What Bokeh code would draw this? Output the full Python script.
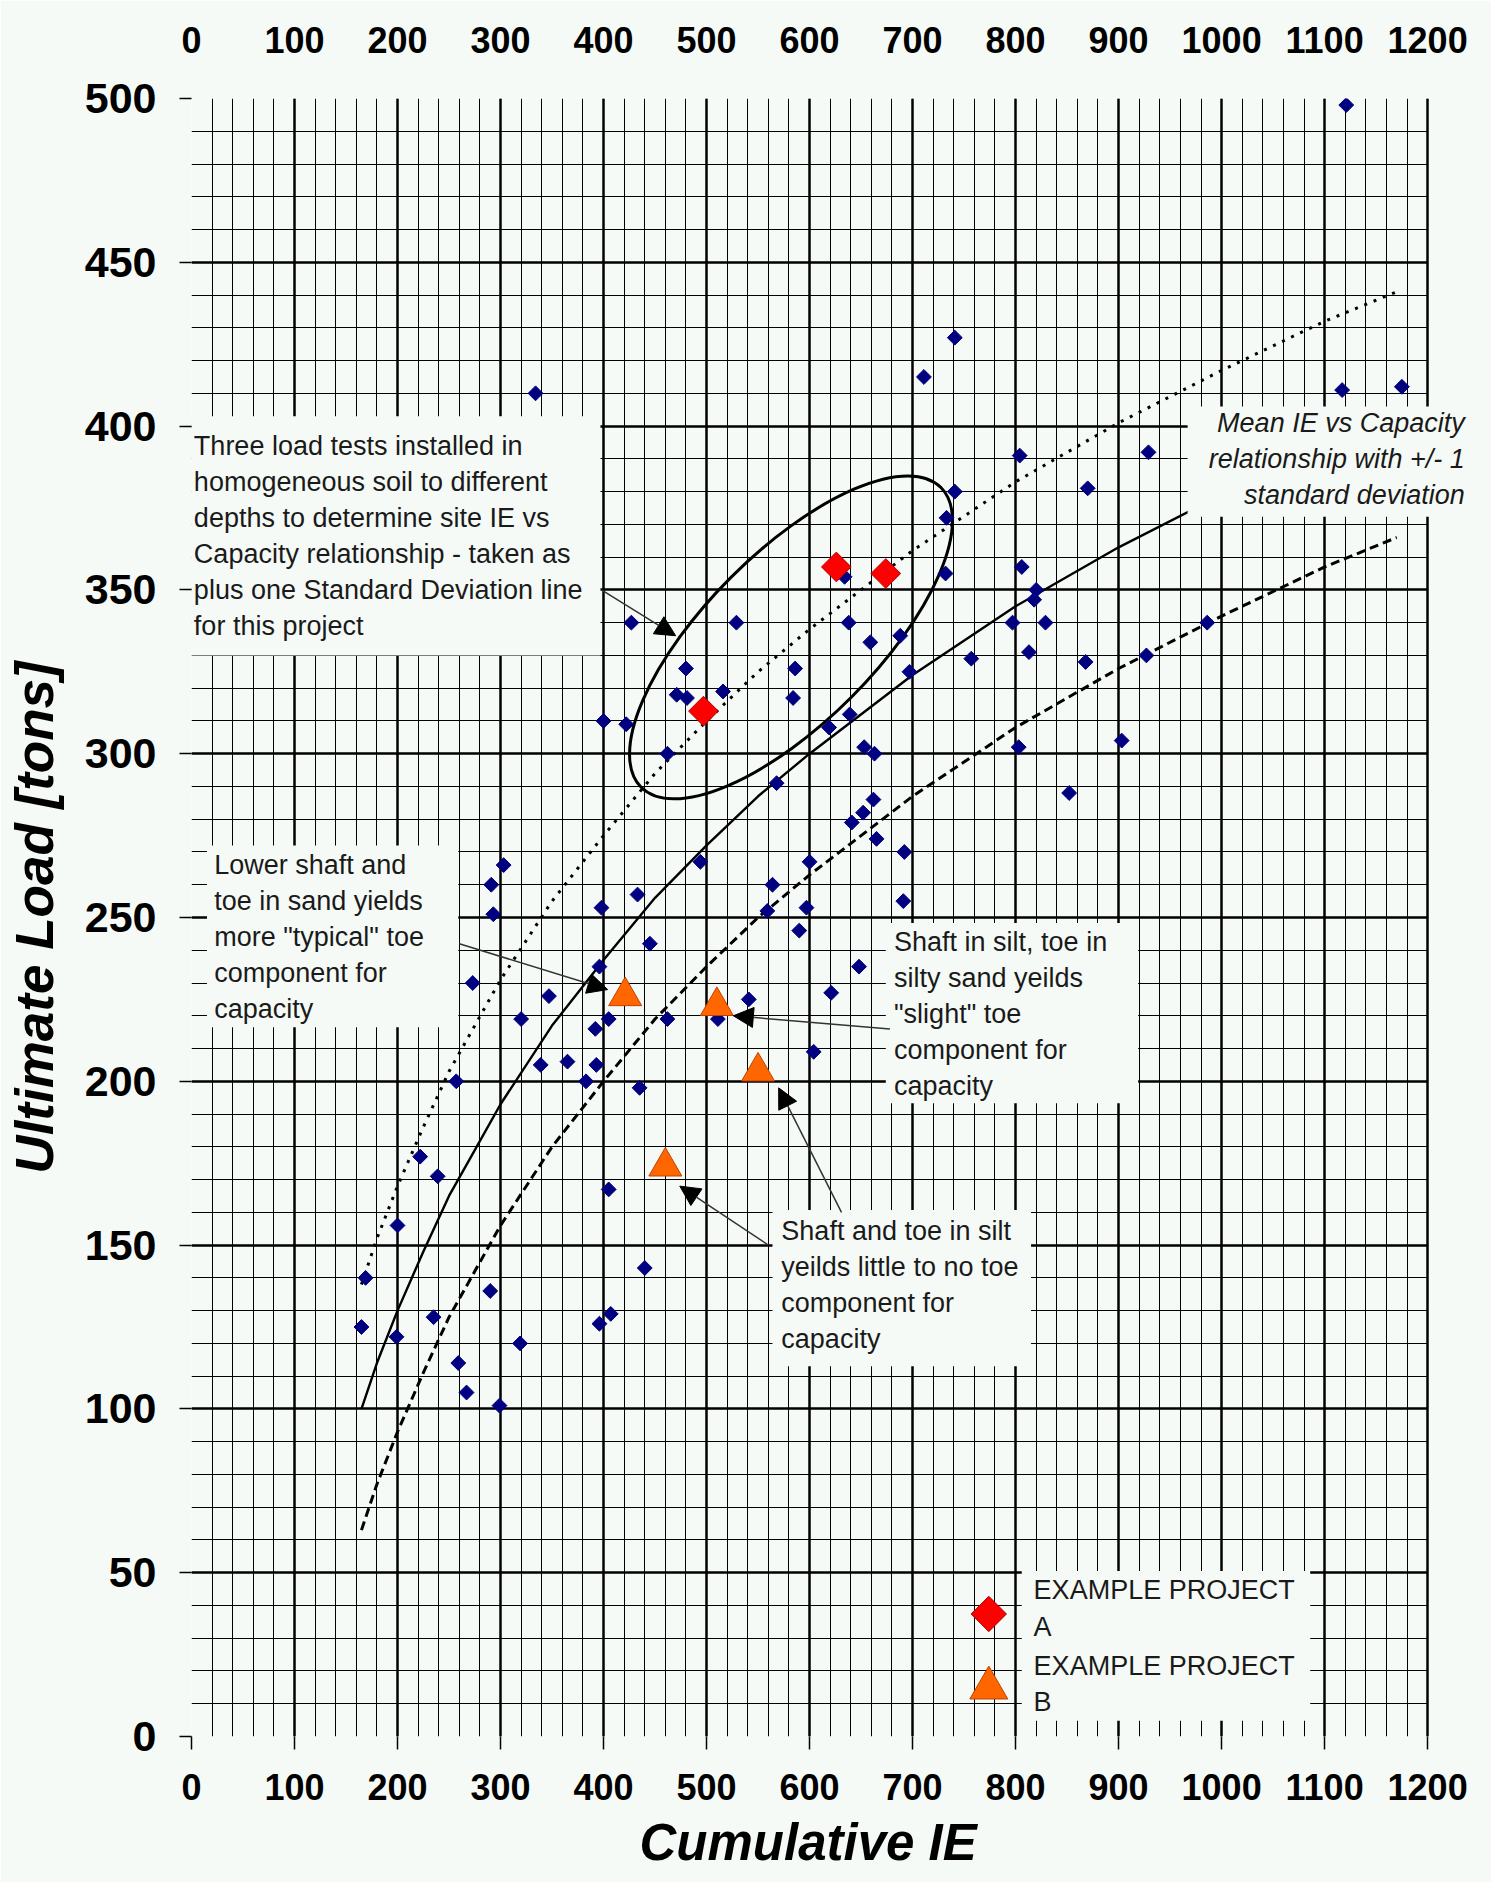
import numpy as np
from bokeh.plotting import figure
from bokeh.models import (Range1d, SingleIntervalTicker, LinearAxis, Label, Arrow,
                          NormalHead, Title, Grid)
from bokeh.embed import file_html
from bokeh.resources import INLINE

# ---------------- data ----------------
ie_data = [1121, 334, 741, 711, 1117, 1175, 804, 929, 870, 741, 733, 806, 732, 634,
           427, 529, 638, 797, 829, 986, 659, 688, 818, 820, 813, 757, 868, 927,
           480, 586, 697, 471, 481, 516, 584, 639, 619, 400, 422, 462, 653, 663,
           803, 903, 568, 662, 852, 652, 641, 665, 692, 691, 494, 600, 303, 291,
           293, 398, 433, 564, 559, 597, 590, 445, 648, 396, 273, 347, 621, 541,
           320, 405, 392, 462, 511, 604, 339, 365, 393, 383, 435, 257, 222, 239,
           200, 405, 440, 169, 165, 199, 235, 290, 319, 259, 267, 299, 407, 396]
load_data = [498, 410, 427, 415, 411, 412, 391, 392, 381, 380, 372, 357, 355, 354,
             340, 340, 340, 340, 340, 340, 334, 336, 347, 350, 331, 329, 328, 330,
             326, 326, 325, 318, 317, 319, 317, 312, 308, 310, 309, 300, 302, 300,
             302, 304, 291, 286, 288, 282, 279, 274, 270, 255, 267, 267, 266, 260,
             251, 253, 257, 260, 252, 253, 246, 242, 235, 235, 230, 226, 227, 225,
             219, 219, 216, 219, 219, 209, 205, 206, 205, 200, 198, 200, 177, 171,
             156, 167, 143, 140, 125, 122, 128, 136, 120, 114, 105, 101, 129, 126]

proj_a_ie = [626, 674, 497]
proj_a_load = [357, 355, 313]
proj_b_ie = [421, 510, 550, 460]
proj_b_load = [226, 223, 203, 174]

curve_ie = [165, 180, 200, 225, 250, 275, 300, 350, 400, 450, 500, 550, 600,
            700, 800, 900, 1000, 1100, 1170]
mean_load = [100, 114, 130, 148, 165, 179, 193, 217, 237, 256, 272, 287, 300,
             324, 345, 363, 379, 394, 403]
plus_sd_load = [138, 152, 168, 186, 203, 217, 231, 255, 275, 294, 310, 325, 338,
                362, 383, 401, 417, 432, 441]
minus_sd_load = [63, 77, 93, 111, 128, 142, 156, 180, 200, 219, 235, 250, 263,
                 287, 308, 326, 342, 357, 366]

x_axis_max = 1200
y_axis_max = 500
x_tick_interval = 100
y_tick_interval = 50

# annotation texts
note1 = ["Three load tests installed in", "homogeneous soil to different",
         "depths to determine site IE vs", "Capacity relationship - taken as",
         "plus one Standard Deviation line", "for this project"]
note2 = ["Lower shaft and", "toe in sand yields", "more \"typical\" toe",
         "component for", "capacity"]
note3 = ["Shaft in silt, toe in", "silty sand yeilds", "\"slight\" toe",
         "component for", "capacity"]
note4 = ["Shaft and toe in silt", "yeilds little to no toe", "component for", "capacity"]
note5 = ["Mean IE vs Capacity", "relationship with +/- 1", "standard deviation"]
legend_lines = ["EXAMPLE PROJECT", "A", "EXAMPLE PROJECT", "B"]

BG = "#f6faf7"
TXT = "#1a1a1a"
FONT = "Liberation Sans"

# frame is extended a little to the right of 1200 so the right-hand note box fits
p = figure(width=1491, height=1882, output_backend="svg", toolbar_location=None,
           x_range=Range1d(0, 1262), y_range=Range1d(0, y_axis_max),
           min_border_left=191, min_border_right=0, min_border_top=98, min_border_bottom=146,
           background_fill_color=BG, border_fill_color=BG, outline_line_color=None)

xt = SingleIntervalTicker(interval=x_tick_interval, num_minor_ticks=5)
yt = SingleIntervalTicker(interval=y_tick_interval, num_minor_ticks=5)
p.xaxis.ticker = xt
p.yaxis.ticker = yt
p.xgrid.ticker = xt
p.ygrid.ticker = yt
p.xgrid.bounds = (0, x_axis_max)
p.xaxis.bounds = (0, x_axis_max)

has_cross = "cross_bounds" in Grid.properties()
if has_cross:
    p.ygrid.cross_bounds = (0, x_axis_max)

p.grid.grid_line_color = "black"
p.grid.grid_line_width = 2.5
p.grid.grid_line_alpha = 1.0
p.grid.minor_grid_line_color = "black"
p.grid.minor_grid_line_width = 1

def style_axis(ax, size, tick_out, standoff):
    ax.axis_line_color = None
    ax.major_tick_out = tick_out
    ax.major_tick_in = 0
    ax.minor_tick_out = 0
    ax.minor_tick_in = 0
    ax.major_tick_line_color = "black"
    ax.major_tick_line_width = 1.5
    ax.major_label_text_font = FONT
    ax.major_label_text_font_style = "bold"
    ax.major_label_text_font_size = size
    ax.major_label_text_color = "black"
    ax.major_label_standoff = standoff

style_axis(p.xaxis[0], "36px", 13, 24)
style_axis(p.yaxis[0], "43px", 12, 23)

p.yaxis.axis_label = "Ultimate Load [tons]"
p.yaxis.axis_label_text_font = FONT
p.yaxis.axis_label_text_font_style = "bold italic"
p.yaxis.axis_label_text_font_size = "53px"
p.yaxis.axis_label_text_color = "black"
p.yaxis.axis_label_standoff = 18

top_axis = LinearAxis(ticker=xt, bounds=(0, x_axis_max))
style_axis(top_axis, "36px", 0, 46)
p.add_layout(top_axis, "above")

p.add_layout(Title(text="Cumulative IE", align="left", offset=448,
                   text_font=FONT, text_font_style="bold italic",
                   text_font_size="51px", text_color="black", standoff=18), "below")

# trend lines
p.line(curve_ie, plus_sd_load, line_color="black", line_width=3, line_dash="3 7")
p.line(curve_ie, mean_load, line_color="black", line_width=2.4)
p.line(curve_ie, minus_sd_load, line_color="black", line_width=3, line_dash="9 5")

# ellipse around project A
ell_ie = [582]
ell_load = [335.5]
p.ellipse(x=ell_ie, y=ell_load, width=424, height=170, angle=np.pi / 4,
          width_units="screen", height_units="screen",
          fill_color=None, line_color="black", line_width=3)

# data points
p.scatter(ie_data, load_data, marker="square", size=10.5, angle=np.pi / 4,
          fill_color="#000080", line_color="#000080")
p.scatter(proj_a_ie, proj_a_load, marker="square", size=21, angle=np.pi / 4,
          fill_color="#ff0000", line_color="#b00000", line_width=1)
p.scatter(proj_b_ie, proj_b_load, marker="triangle", size=33,
          fill_color="#ff6600", line_color="#c04000", line_width=1)

# text boxes (left, right, bottom, top) in data units
box_left = [-4, 15, 674, 564, 967, 806]
box_right = [397, 259, 919, 815, 1260, 1086]
box_bottom = [330, 216.5, 193.3, 113, 372.3, 4.8]
box_top = [403, 272, 248.3, 160.7, 406, 50.5]
if not has_cross:
    box_left.append(x_axis_max + 1.3)
    box_right.append(1270)
    box_bottom.append(-5)
    box_top.append(505)
p.quad(left=box_left, right=box_right, bottom=box_bottom, top=box_top,
       fill_color=BG, line_color=None)

# legend keys
p.scatter([774], [37.4], marker="square", size=25, angle=np.pi / 4,
          fill_color="#ff0000", line_color="#b00000", line_width=1)
p.scatter([774], [14.8], marker="triangle", size=38,
          fill_color="#ff6600", line_color="#c04000", line_width=1)

def add_lines(lines, x, y0, step=11.0, align="left", style="normal"):
    for i, t in enumerate(lines):
        p.add_layout(Label(x=x, y=y0 - i * step, text=t, text_align=align,
                           text_baseline="middle", text_font=FONT,
                           text_font_size="27px", text_font_style=style,
                           text_color=TXT))

add_lines(note1, 2.3, 394.0)
add_lines(note2, 22, 266.0)
add_lines(note3, 682, 242.5)
add_lines(note4, 572.6, 154.4)
add_lines(note5, 1236, 401.0, align="right", style="italic")
for t, yv in zip(legend_lines, [44.6, 33.5, 21.6, 10.4]):
    p.add_layout(Label(x=817.5, y=yv, text=t, text_align="left", text_baseline="middle",
                       text_font=FONT, text_font_size="27px", text_color=TXT))

# arrows
arrow_x0 = [398, 260, 678, 631, 560]
arrow_y0 = [350, 242, 216, 160, 150]
arrow_x1 = [470, 404, 526, 570, 474]
arrow_y1 = [336, 228, 220, 198, 168]
for xs, ys, xe, ye in zip(arrow_x0, arrow_y0, arrow_x1, arrow_y1):
    p.add_layout(Arrow(end=NormalHead(size=20, fill_color="black", line_color="black"),
                       x_start=xs, y_start=ys, x_end=xe, y_end=ye,
                       line_color="#333333", line_width=1.5))

open("out.html", "w").write(file_html(p, INLINE))
